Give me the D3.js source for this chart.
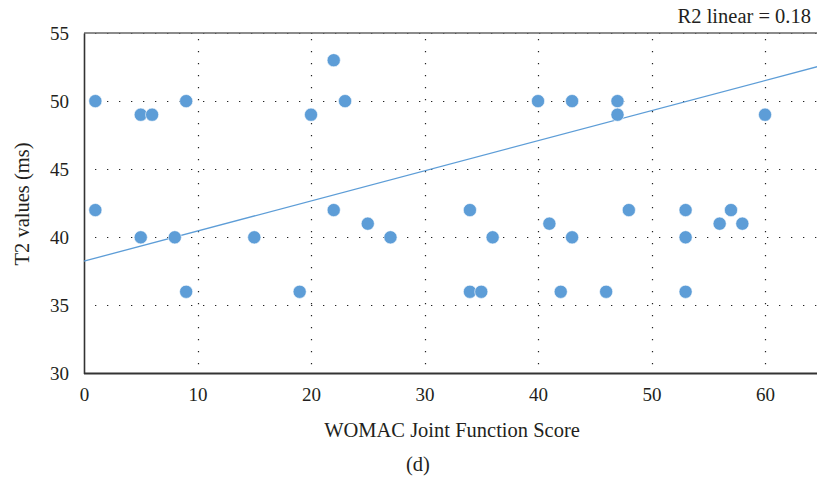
<!DOCTYPE html>
<html>
<head>
<meta charset="utf-8">
<script src="https://cdn.jsdelivr.net/npm/d3@7"></script>
<style>
  body { margin: 0; background: #fff; }
  text { font-family: "Liberation Serif", "DejaVu Serif", serif; fill: #231f20; }
</style>
</head>
<body>
<svg id="chart" width="817" height="481"></svg>
<script>
// WOMAC score vs T2 value
const womac = [1, 5, 6, 9, 20, 22, 23, 40, 43, 47, 47, 60,
               1, 5, 8, 15, 9, 19, 22, 25, 27, 34, 36, 34, 35, 41, 43, 42, 48, 46, 53, 53, 53, 56, 57, 58];
const t2 = [50, 49, 49, 50, 49, 53, 50, 50, 50, 50, 49, 49,
            42, 40, 40, 40, 36, 36, 42, 41, 40, 42, 40, 36, 36, 41, 40, 36, 42, 36, 42, 40, 36, 41, 42, 41];

const xTicks = [0, 10, 20, 30, 40, 50, 60];
const yTicks = [30, 35, 40, 45, 50, 55];

// fitted line as drawn in the figure
const fit = {intercept: 38.25, slope: 0.221};
const r2Label = "R2 linear = 0.18";

const svg = d3.select("#chart");
const blue = "#5d9dd7";

const x = d3.scaleLinear().domain([0, 65]).range([84, 821.8]);
const y = d3.scaleLinear().domain([30, 55]).range([373.5, 33]);

// grid
const grid = svg.append("g");
grid.selectAll(".vg")
    .data(xTicks.filter(d => d > 0))
    .enter().append("line")
    .attr("x1", d => Math.round(x(d)) + 0.5).attr("x2", d => Math.round(x(d)) + 0.5)
    .attr("y1", y(55)).attr("y2", y(30))
    .attr("stroke", "#222").attr("stroke-width", 1.2)
    .attr("stroke-dasharray", "1.3,10.7")
    .attr("stroke-dashoffset", -6);

grid.selectAll(".hg")
    .data(yTicks.filter(d => d > 30))
    .enter().append("line")
    .attr("x1", x(0)).attr("x2", 817)
    .attr("y1", d => Math.round(y(d)) + 0.5).attr("y2", d => Math.round(y(d)) + 0.5)
    .attr("stroke", "#222").attr("stroke-width", 1.2)
    .attr("stroke-dasharray", "1.3,10.7")
    .attr("stroke-dashoffset", -11);

// top border
svg.append("line")
    .attr("x1", x(0)).attr("x2", 817)
    .attr("y1", y(55)).attr("y2", y(55))
    .attr("stroke", "#666").attr("stroke-width", 1.5);

// axes
const xAxis = d3.axisBottom(x).tickValues(xTicks).tickSize(0).tickPadding(14);
const yAxis = d3.axisLeft(y).tickValues(yTicks).tickSize(0).tickPadding(15);

const gx = svg.append("g").attr("transform", `translate(0,${y(30)})`).call(xAxis);
gx.select(".domain").attr("stroke", "#333").attr("stroke-width", 2)
    .attr("d", `M${x(0)},0H817`);
gx.selectAll("text").style("font-size", "19px").attr("fill", "#231f20")
    .style("font-family", "Liberation Serif");

const gy = svg.append("g").attr("transform", `translate(${x(0)},0)`).call(yAxis);
gy.select(".domain").attr("stroke", "#333").attr("stroke-width", 1.6);
gy.selectAll("text").style("font-size", "19px").attr("fill", "#231f20")
    .style("font-family", "Liberation Serif");

// trend line
svg.append("line")
    .attr("x1", x(0)).attr("y1", y(fit.intercept))
    .attr("x2", x(65)).attr("y2", y(fit.intercept + fit.slope * 65))
    .attr("stroke", blue).attr("stroke-width", 1.3);

// points
svg.append("g").selectAll("circle")
    .data(d3.zip(womac, t2))
    .enter().append("circle")
    .attr("cx", d => x(d[0]))
    .attr("cy", d => y(d[1]))
    .attr("r", 6.6)
    .attr("fill", blue)
    .attr("stroke", "#fff").attr("stroke-width", 0.6);

// labels
svg.append("text")
    .attr("x", 811).attr("y", 23)
    .attr("text-anchor", "end")
    .style("font-size", "20.5px")
    .text(r2Label);

svg.append("text")
    .attr("x", 452).attr("y", 437)
    .attr("text-anchor", "middle")
    .style("font-size", "20.5px")
    .text("WOMAC Joint Function Score");

svg.append("text")
    .attr("transform", "translate(29,204) rotate(-90)")
    .attr("text-anchor", "middle")
    .style("font-size", "20.5px")
    .text("T2 values (ms)");

svg.append("text")
    .attr("x", 418).attr("y", 471)
    .attr("text-anchor", "middle")
    .style("font-size", "20.5px")
    .text("(d)");
</script>
</body>
</html>
